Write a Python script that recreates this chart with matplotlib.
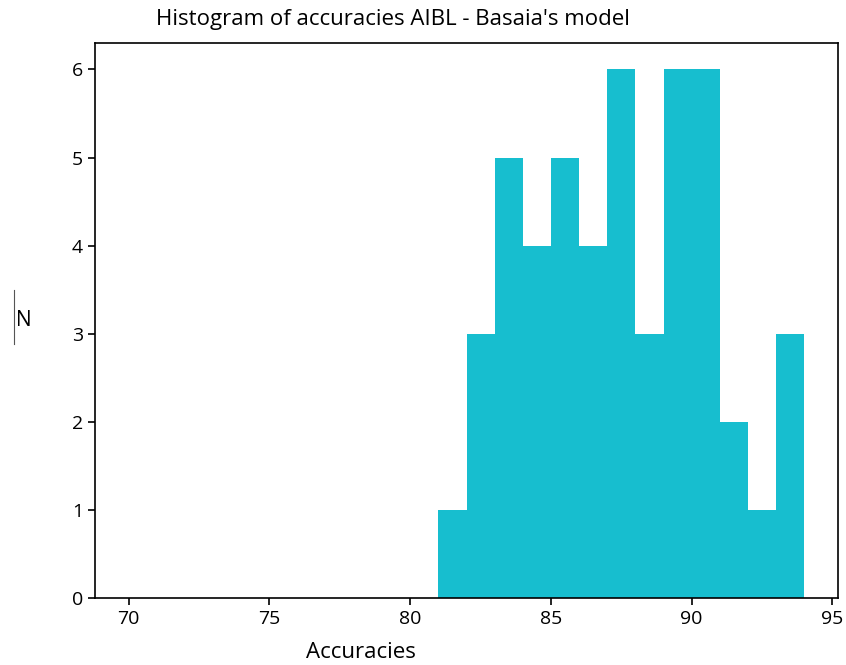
import matplotlib
matplotlib.use('Agg')
import numpy as np
from matplotlib import pyplot as plt
from matplotlib.lines import Line2D

plt.rcParams['font.family'] = ['Open Sans', 'DejaVu Sans']

# histogram bins (width 1) and counts
bin_edges = list(range(70, 95))
counts = [0, 0, 0, 0, 0, 0, 0, 0, 0, 0, 0,
          1, 3, 5, 4, 5, 4, 6, 3, 6, 6, 2, 1, 3]

title = "Histogram of accuracies AIBL - Basaia's model"
xlabel = 'Accuracies'
ylabel = 'N'

fig = plt.figure(figsize=(8.46, 6.65), dpi=100)
ax = fig.add_axes([95 / 846, 1 - 598 / 665, (838 - 95) / 846, (598 - 43) / 665])

ax.hist(bin_edges[:-1], bins=bin_edges, weights=counts, color='#17becf')
ax.tick_params(labelsize=14, length=5, width=1.2)
for s in ax.spines.values():
    s.set_linewidth(1.2)

fig.text(393 / 846, 1 - 20 / 665, title, ha='center', va='center', fontsize=16)
fig.text(361 / 846, 1 - 653 / 665, xlabel, ha='center', va='center', fontsize=16)
fig.text(24 / 846, 1 - 320 / 665, ylabel, ha='center', va='center', fontsize=15)
fig.add_artist(Line2D([14 / 846, 14 / 846], [1 - 290 / 665, 1 - 344 / 665],
                      color='#555555', lw=0.8))

plt.savefig('out.png', dpi=100)
